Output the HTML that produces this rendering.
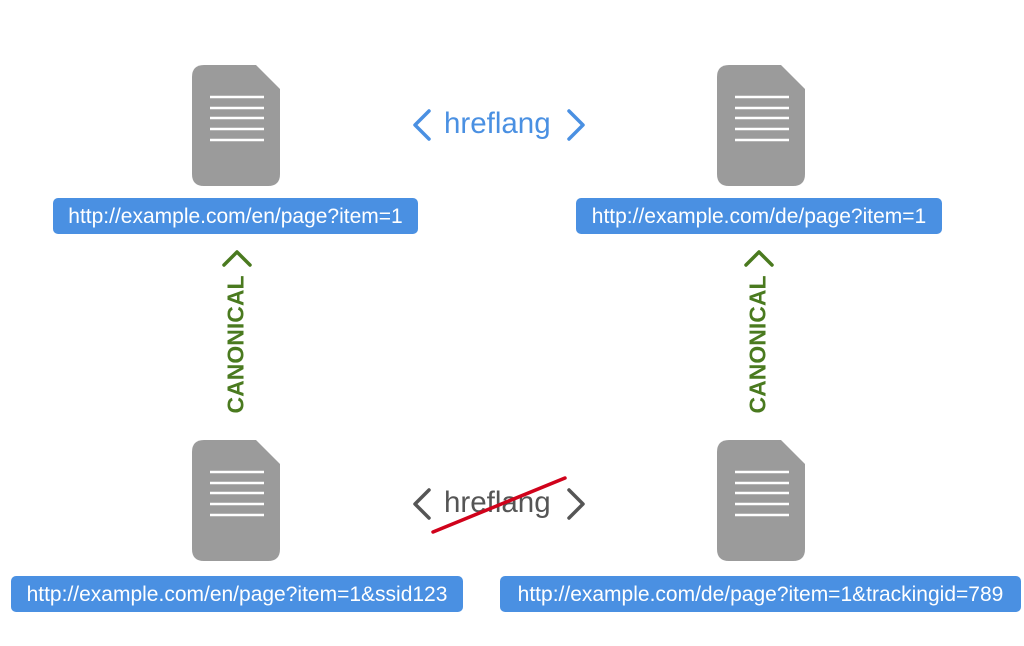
<!DOCTYPE html>
<html><head><style>
body{margin:0;width:1024px;height:646px;background:#fff;position:relative;overflow:hidden;font-family:"Liberation Sans",sans-serif}
.lab{position:absolute;background:#4a90e2;color:#fff;font-size:21px;height:36px;line-height:37px;border-radius:5px;text-align:center;white-space:nowrap}
.can{position:absolute;color:#4a7a1f;font-weight:bold;font-size:23px;transform:rotate(-90deg);transform-origin:center;white-space:nowrap}
.hf{position:absolute;font-size:29.5px;white-space:nowrap}
</style></head><body>
<svg width="1024" height="646" style="position:absolute;left:0;top:0">
<defs><g id="doc">
<path d="M12 0 H64 L88 24 V109 Q88 121 76 121 H12 Q0 121 0 109 V12 Q0 0 12 0 Z" fill="#9b9b9b"/>
<g stroke="#fff" stroke-width="2.5"><line x1="18" y1="32" x2="72" y2="32"/><line x1="18" y1="43" x2="72" y2="43"/><line x1="18" y1="53" x2="72" y2="53"/><line x1="18" y1="64" x2="72" y2="64"/><line x1="18" y1="75" x2="72" y2="75"/></g>
</g></defs>
<use href="#doc" x="192" y="65"/><use href="#doc" x="717" y="65"/>
<use href="#doc" x="192" y="440"/><use href="#doc" x="717" y="440"/>
<g fill="none" stroke-width="3.5" stroke-linecap="round" stroke-linejoin="round">
<polyline points="429,111 415,125 429,139" stroke="#4a90e2"/>
<polyline points="569,111 583,125 569,139" stroke="#4a90e2"/>
<polyline points="429,490 415,504 429,518" stroke="#555"/>
<polyline points="569,490 583,504 569,518" stroke="#555"/>
<polyline points="224,265 237,252 250,265" stroke="#4a7a1f"/>
<polyline points="746,265 759,252 772,265" stroke="#4a7a1f"/>
</g>
</svg>
<div class="hf" style="left:444px;top:107px;color:#4a90e2">hreflang</div>
<div class="hf" style="left:444px;top:486px;color:#555">hreflang</div>
<svg width="1024" height="646" style="position:absolute;left:0;top:0"><line x1="433" y1="532" x2="565" y2="478" stroke="#d0021b" stroke-width="3.5" stroke-linecap="round"/></svg>
<div class="can" style="left:166px;top:331px;width:140px;text-align:center">CANONICAL</div>
<div class="can" style="left:688px;top:331px;width:140px;text-align:center">CANONICAL</div>
<div class="lab" style="left:53px;top:198px;width:365px">http://example.com/en/page?item=1</div>
<div class="lab" style="left:576px;top:198px;width:366px">http://example.com/de/page?item=1</div>
<div class="lab" style="left:11px;top:576px;width:452px">http://example.com/en/page?item=1&amp;ssid123</div>
<div class="lab" style="left:500px;top:576px;width:521px">http://example.com/de/page?item=1&amp;trackingid=789</div>
</body></html>
